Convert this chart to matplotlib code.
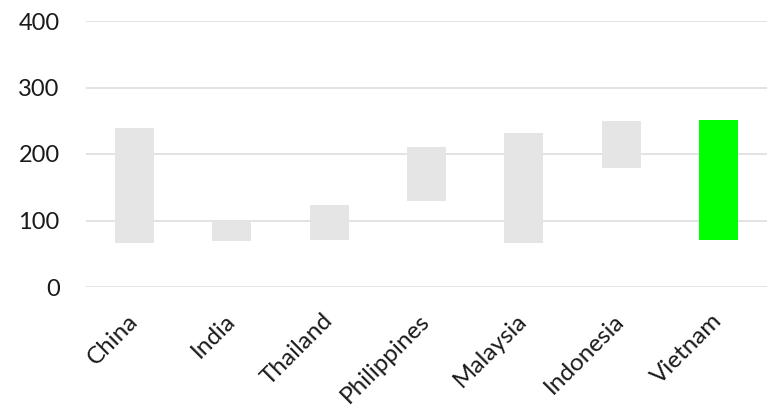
"""Floating range bars by country, with Vietnam highlighted."""

import matplotlib

matplotlib.use("Agg")

import matplotlib.pyplot as plt

COUNTRIES = ["China", "India", "Thailand", "Philippines", "Malaysia", "Indonesia", "Vietnam"]
RANGE_LOW = [66, 69, 70, 130, 66, 179, 70]
RANGE_HIGH = [239, 100, 124, 211, 231, 249, 251]
HIGHLIGHT = "Vietnam"

Y_TICKS = [0, 100, 200, 300, 400]

BAR_GRAY = "#e5e5e5"
BAR_GREEN = "#00ff00"
GRID_COLOR = "#e0e0e0"

plt.rcParams["font.family"] = ["Lato", "DejaVu Sans"]

fig = plt.figure(figsize=(7.69, 4.07), dpi=100)
ax = fig.add_axes([86 / 769, 1 - 287 / 407, (767 - 86) / 769, (287 - 21) / 407])

colors = [BAR_GREEN if c == HIGHLIGHT else BAR_GRAY for c in COUNTRIES]
heights = [hi - lo for lo, hi in zip(RANGE_LOW, RANGE_HIGH)]
ax.bar(range(len(COUNTRIES)), heights, bottom=RANGE_LOW, width=0.4, color=colors, zorder=2)

ax.set_xlim(-0.5, len(COUNTRIES) - 0.5)
ax.set_ylim(0, 400)
ax.set_yticks(Y_TICKS)
ax.set_yticklabels([str(v) for v in Y_TICKS], fontsize=17, color="#1a1a1a")
ax.set_xticks(range(len(COUNTRIES)))
ax.set_xticklabels(
    COUNTRIES,
    rotation=45,
    ha="right",
    va="center",
    rotation_mode="anchor",
    fontsize=17.5,
    color="#1a1a1a",
)
ax.tick_params(axis="y", length=0, pad=19)
ax.tick_params(axis="x", length=0, pad=22)

ax.grid(axis="y", color=GRID_COLOR, linewidth=1.3, zorder=0)
ax.set_axisbelow(True)
for spine in ax.spines.values():
    spine.set_visible(False)

fig.savefig("out.png", dpi=100)
